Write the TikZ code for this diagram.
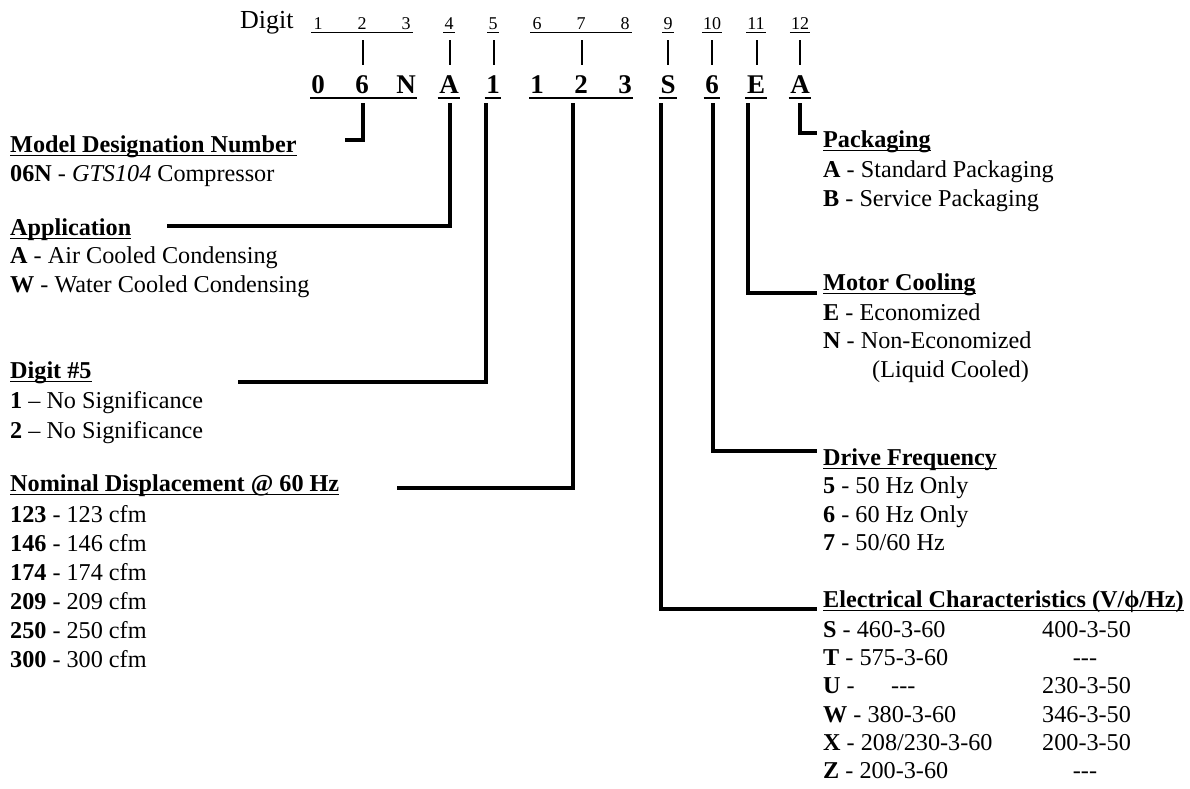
\documentclass[tikz,border=0pt]{standalone}
\usepackage{fontspec}
\setmainfont{Liberation Serif}
\newcommand{\hdline}[1]{\draw[ul] ([yshift=-3.5pt]#1.base west) -- ([yshift=-3.5pt]#1.base east);}
\begin{document}
\begin{tikzpicture}[x=1pt,y=-1pt,
  txt/.style={anchor=base west,inner sep=0pt,font=\fontsize{24.2}{29}\selectfont},
  hd/.style={anchor=base west,inner sep=0pt,font=\fontsize{24.2}{29}\selectfont\bfseries},
  big/.style={anchor=base,inner sep=0pt,font=\fontsize{27}{30}\selectfont\bfseries},
  dig/.style={anchor=base,inner sep=0pt,font=\fontsize{18}{20}\selectfont},
  conn/.style={line width=3.6pt,line join=miter},
  ul/.style={line width=1.3pt},
  bigul/.style={line width=2pt},
  digul/.style={line width=1pt},
  tick/.style={line width=1.1pt}]
\useasboundingbox[fill=white] (0,0) rectangle (1190,788);

% ---- top header ----
\node[anchor=base west,inner sep=0pt,font=\fontsize{26}{30}\selectfont] (digit) at (240,28) {Digit};
\foreach \i/\x in {1/318,2/362,3/406,4/449,5/493,6/537,7/581,8/625,9/668,10/712,11/756,12/800}{
  \node[dig] (D\i) at (\x,29) {\i};
}
\node[big] (L1) at (318,93) {0};
\node[big] (L2) at (362,93) {6};
\node[big] (L3) at (406,93) {N};
\node[big] (L4) at (449,93) {A};
\node[big] (L5) at (493,93) {1};
\node[big] (L6) at (537,93) {1};
\node[big] (L7) at (581,93) {2};
\node[big] (L8) at (625,93) {3};
\node[big] (L9) at (668,93) {S};
\node[big] (L10) at (712,93) {6};
\node[big] (L11) at (756,93) {E};
\node[big] (L12) at (800,93) {A};

% small digit underlines
\draw[digul] ([xshift=-2pt,yshift=-3pt]D1.base west) -- ([xshift=2pt,yshift=-3pt]D3.base east);
\draw[digul] ([xshift=-2pt,yshift=-3pt]D6.base west) -- ([xshift=2pt,yshift=-3pt]D8.base east);
\foreach \i in {4,5,9,10,11,12}{
  \draw[digul] ([xshift=-1pt,yshift=-3pt]D\i.base west) -- ([xshift=1pt,yshift=-3pt]D\i.base east);
}
% ticks
\foreach \i/\x in {2/363,4/450,5/494,7/582,9/668,10/712,11/757,12/800}{
  \coordinate (ta\i) at (\x,40);
  \coordinate (tb\i) at (\x,65);
  \draw[tick] (ta\i) -- (tb\i);
}
% big letter underlines
\draw[bigul] ([xshift=-1pt,yshift=-5pt]L1.base west) -- ([xshift=1pt,yshift=-5pt]L3.base east);
\draw[bigul] ([xshift=-1pt,yshift=-5pt]L6.base west) -- ([xshift=1pt,yshift=-5pt]L8.base east);
\foreach \i in {4,5,9,10,11,12}{
  \draw[bigul] ([xshift=-1.5pt,yshift=-5pt]L\i.base west) -- ([xshift=1.5pt,yshift=-5pt]L\i.base east);
}

% ---- connectors ----
\coordinate (c2) at (363,103);  \coordinate (e2) at (345,140);
\coordinate (c4) at (450,103);  \coordinate (e4) at (167,226);
\coordinate (c5) at (486,103);  \coordinate (e5) at (238,382);
\coordinate (c7) at (573,103);  \coordinate (e7) at (397,488);
\coordinate (c9) at (661,103);  \coordinate (e9) at (817,609);
\coordinate (c10) at (713,103); \coordinate (e10) at (817,451);
\coordinate (c11) at (748,103); \coordinate (e11) at (817,293);
\coordinate (c12) at (800,103); \coordinate (e12) at (817,133);
\foreach \i in {2,4,5,7,9,10,11,12}{
  \draw[conn] (c\i) |- (e\i);
}

% ---- left texts ----
\node[hd] (mdn) at (10,152) {Model Designation Number}; \hdline{mdn}
\node[txt] (mdn1) at (10,181) {\textbf{06N} - \textit{GTS104} Compressor};

\node[hd] (app) at (10,235) {Application}; \hdline{app}
\node[txt] (app1) at (10,263) {\textbf{A} - Air Cooled Condensing};
\node[txt] (app2) at (10,292) {\textbf{W} - Water Cooled Condensing};

\node[hd] (d5) at (10,378) {Digit \#5}; \hdline{d5}
\node[txt] (d5a) at (10,408) {\textbf{1} – No Significance};
\node[txt] (d5b) at (10,438) {\textbf{2} – No Significance};

\node[hd] (nom) at (10,491) {Nominal Displacement @ 60 Hz}; \hdline{nom}
\node[txt] (nom1) at (10,522) {\textbf{123} - 123 cfm};
\node[txt] (nom2) at (10,551) {\textbf{146} - 146 cfm};
\node[txt] (nom3) at (10,580) {\textbf{174} - 174 cfm};
\node[txt] (nom4) at (10,609) {\textbf{209} - 209 cfm};
\node[txt] (nom5) at (10,638) {\textbf{250} - 250 cfm};
\node[txt] (nom6) at (10,667) {\textbf{300} - 300 cfm};

% ---- right texts ----
\node[hd] (pkg) at (823,147) {Packaging}; \hdline{pkg}
\node[txt] (pkg1) at (823,177) {\textbf{A} - Standard Packaging};
\node[txt] (pkg2) at (823,206) {\textbf{B} - Service Packaging};

\node[hd] (mot) at (823,290) {Motor Cooling}; \hdline{mot}
\node[txt] (mot1) at (823,320) {\textbf{E} - Economized};
\node[txt] (mot2) at (823,348) {\textbf{N} - Non-Economized};
\node[txt] (mot3) at (872,377) {(Liquid Cooled)};

\node[hd] (drv) at (823,465) {Drive Frequency}; \hdline{drv}
\node[txt] (drv1) at (823,493) {\textbf{5} - 50 Hz Only};
\node[txt] (drv2) at (823,522) {\textbf{6} - 60 Hz Only};
\node[txt] (drv3) at (823,550) {\textbf{7} - 50/60 Hz};

\node[hd] (ele) at (823,607) {Electrical Characteristics (V/ϕ/Hz)}; \hdline{ele}
\node[txt] (s1) at (823,637) {\textbf{S} - 460-3-60};
\node[txt] (t1) at (823,665) {\textbf{T} - 575-3-60};
\node[txt] (u1) at (823,693) {\textbf{U} -};
\node[txt] (u1d) at (891,693) {-{}-{}-};
\node[txt] (w1) at (823,722) {\textbf{W} - 380-3-60};
\node[txt] (x1) at (823,750) {\textbf{X} - 208/230-3-60};
\node[txt] (z1) at (823,778) {\textbf{Z} - 200-3-60};
\node[txt] (s2) at (1042,637) {400-3-50};
\node[txt,anchor=base] (t2) at (1085,665) {-{}-{}-};
\node[txt] (u2) at (1042,693) {230-3-50};
\node[txt] (w2) at (1042,722) {346-3-50};
\node[txt] (x2) at (1042,750) {200-3-50};
\node[txt,anchor=base] (z2) at (1085,778) {-{}-{}-};
\end{tikzpicture}
\end{document}
